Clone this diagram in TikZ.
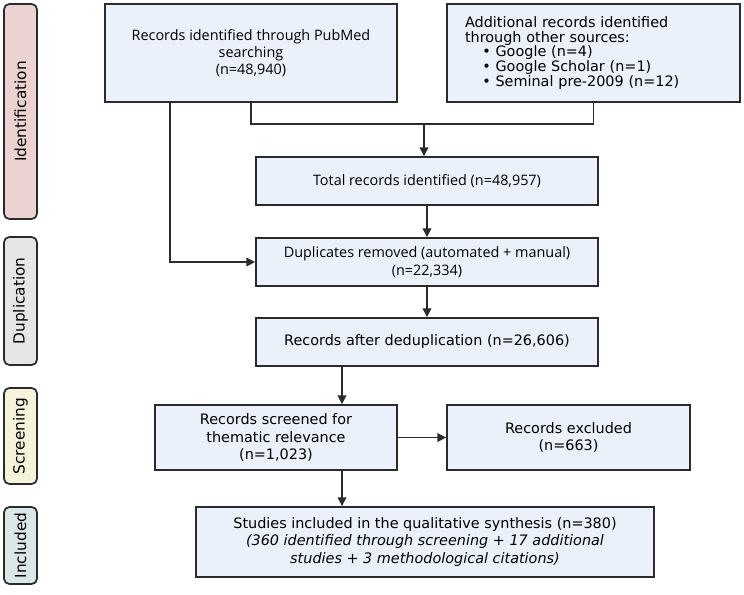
\documentclass[tikz,border=0pt]{standalone}
\usepackage{fontspec}
\setmainfont{DejaVu Sans}
\newfontfamily\plexfont{Open Sans}
\usetikzlibrary{arrows.meta,positioning}
\definecolor{boxblue}{HTML}{EAF1FB}
\definecolor{lineclr}{HTML}{2B2B2B}
\definecolor{idpink}{HTML}{EDD2D2}
\definecolor{dupgrey}{HTML}{E6E6E6}
\definecolor{scrcream}{HTML}{F6F3DB}
\definecolor{incteal}{HTML}{DBE7E6}

\begin{document}
\begin{tikzpicture}[x=0.75pt,y=-0.75pt,
phase/.style={draw=lineclr,line width=1.3pt,rounded corners=4pt,rotate=90,
minimum height=24.75pt,inner sep=0pt,font=\fontsize{11.5}{13}\selectfont},
box/.style={draw=lineclr,fill=boxblue,line width=1.4pt,align=center,
inner sep=2pt,font=\fontsize{10.8}{13}\selectfont},
plex/.style={font=\plexfont\fontsize{10.8}{13}\selectfont},
arr/.style={-{Triangle[length=6.5pt,width=6.5pt]},line width=1.1pt,draw=lineclr},
lnk/.style={line width=1.1pt,draw=lineclr}
]
\useasboundingbox (0,0) rectangle (744,594);

% phases on the left
\node[phase,fill=idpink,minimum width=161.25pt] (pid) at (20.5,111.5) {Identification};
\node[phase,fill=dupgrey,minimum width=96pt] (pdup) at (20.5,301) {Duplication};
\node[phase,fill=scrcream,minimum width=72pt] (pscr) at (20.5,436) {Screening};
\node[phase,fill=incteal,minimum width=57.75pt] (pinc) at (20.5,545.5) {Included};

% flow boxes
\node[box,plex,minimum width=219pt,minimum height=73.5pt] (pubmed) at (251,53)
{Records identified through PubMed\\searching\\(n=48,940)};
\node[box,minimum width=219.75pt,minimum height=73.5pt,align=left,
text width=192.75pt,inner xsep=0pt,
font=\fontsize{10.8}{11}\selectfont] (other) at (593.5,53)
{Additional records identified\\through other sources:\\
\hspace*{1.2em}\textbullet\ Google (n=4)\\
\hspace*{1.2em}\textbullet\ Google Scholar (n=1)\\
\hspace*{1.2em}\textbullet\ Seminal pre-2009 (n=12)};
\node[box,plex,minimum width=256.5pt,minimum height=36pt] (total) at (427,181)
{Total records identified (n=48,957)};
\node[box,plex,minimum width=256.5pt,minimum height=36pt] (dup) at (427,262)
{Duplicates removed (automated + manual)\\(n=22,334)};
\node[box,minimum width=256.5pt,minimum height=36pt] (dedup) at (427,342)
{Records after deduplication (n=26,606)};
\node[box,minimum width=181.5pt,minimum height=48.75pt] (screened) at (276,437.5)
{Records screened for\\thematic relevance\\(n=1,023)};
\node[box,minimum width=182.25pt,minimum height=48.75pt] (excluded) at (568.5,437.5)
{Records excluded\\(n=663)};
\node[box,minimum width=343.5pt,minimum height=52.5pt] (incl) at (425,542)
{Studies included in the qualitative synthesis (n=380)\\
\textit{(360 identified through screening + 17 additional}\\
\textit{studies + 3 methodological citations)}};

% connectors
\coordinate (join) at (424,124);
\coordinate (mid) at (342,400);
\draw[lnk] (pubmed.south) |- (join) -| (other.south);
\draw[arr] (join) -- (join |- total.north);
\draw[arr] ([xshift=49.5pt]pubmed.south west) |- (dup.west);
\draw[arr] (total) -- (dup);
\draw[arr] (dup) -- (dedup);
\draw[arr] (dedup.south -| mid) -- (screened.north -| mid);
\draw[arr] (screened) -- (excluded);
\draw[arr] (screened.south -| mid) -- (incl.north -| mid);
\end{tikzpicture}
\end{document}
